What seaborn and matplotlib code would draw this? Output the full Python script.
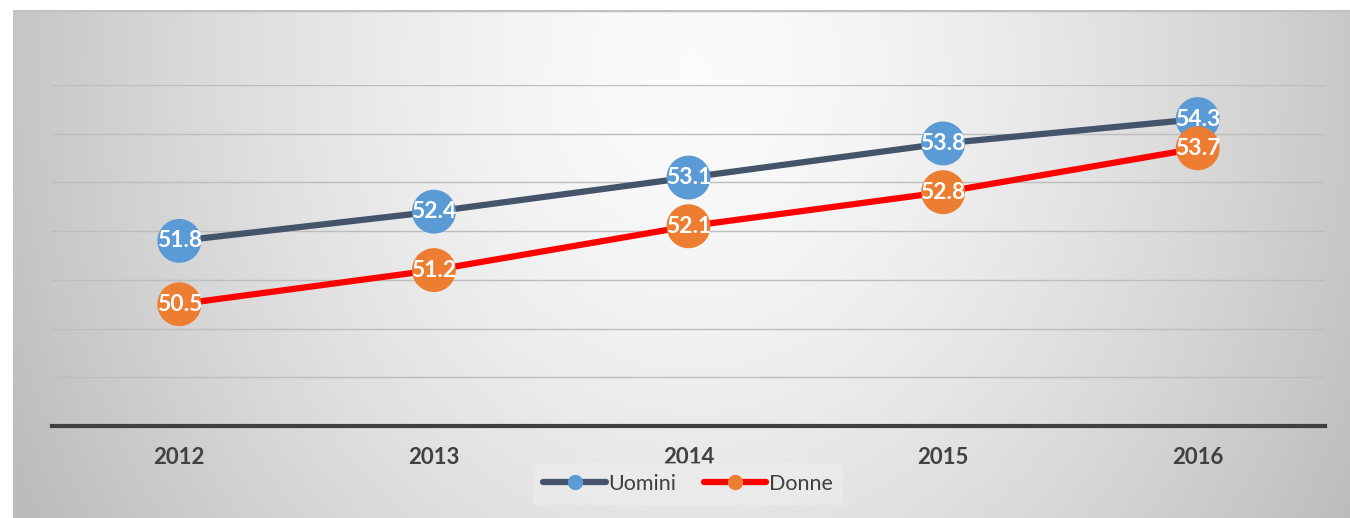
import numpy as np
import pandas as pd
import matplotlib
matplotlib.use("Agg")
import matplotlib.pyplot as plt
from matplotlib.lines import Line2D
import seaborn as sns

# ---- data ----
years = ["2012", "2013", "2014", "2015", "2016"]
uomini = [51.8, 52.4, 53.1, 53.8, 54.3]
donne = [50.5, 51.2, 52.1, 52.8, 53.7]
series_names = ["Uomini", "Donne"]

line_colors = {"Uomini": "#44546A", "Donne": "#FF0000"}
marker_colors = {"Uomini": "#5B9BD5", "Donne": "#ED7D31"}

df = pd.DataFrame({
    "x": list(range(len(years))) * 2,
    "value": uomini + donne,
    "serie": ["Uomini"] * len(years) + ["Donne"] * len(years),
})

sns.set_theme(style="white")
plt.rcParams["font.family"] = ["Lato", "DejaVu Sans"]

W, H = 1350, 518
fig = plt.figure(figsize=(W / 100, H / 100), dpi=100)
fig.patch.set_facecolor("white")

# background with radial gradient
bg = fig.add_axes([13 / W, 0, 1 - 13 / W, (H - 10) / H])
bg.set_zorder(-10)
yy, xx = np.mgrid[0:508, 0:1337]
r = np.sqrt(((xx - 680) / 680.0) ** 2 + ((yy - 60) / 800.0) ** 2)
b = np.clip(0.985 - 0.21 * r ** 1.5, 0.74, 1.0)
img = np.dstack([b, b, b])
bg.imshow(img, aspect="auto", extent=[0, 1, 0, 1], origin="upper")
bg.set_xlim(0, 1)
bg.set_ylim(0, 1)
bg.axhline(1, color="#c0c0c0", lw=2.5)
bg.axis("off")

ax = fig.add_axes([52 / W, 92 / H, (1325 - 52) / W, (426 - 85) / H])
ax.set_facecolor("none")
ax.patch.set_alpha(0)

sns.lineplot(data=df, x="x", y="value", hue="serie", palette=line_colors,
             linewidth=4.5, ax=ax, legend=False, zorder=3)
sns.scatterplot(data=df, x="x", y="value", hue="serie", palette=marker_colors,
                s=1000, edgecolor="none", ax=ax, legend=False, zorder=4)

for vals in (uomini, donne):
    for i, v in enumerate(vals):
        ax.text(i, v, f"{v:.1f}", color="white", fontweight="bold",
                fontsize=16.5, ha="center", va="center", zorder=5)

ax.set_xlim(-0.5, len(years) - 0.5)
ax.set_ylim(48, 55)
ax.set_yticks(np.arange(49, 56, 1))
ax.yaxis.grid(True, color="#bdbdbd", lw=1.0)
ax.set_axisbelow(True)
ax.set_yticklabels([])
ax.tick_params(axis="y", length=0)
ax.set_xticks(range(len(years)))
ax.set_xticklabels(years, fontweight="bold", fontsize=16, color="#404040")
ax.tick_params(axis="x", length=0, pad=15)
ax.set_xlabel("")
ax.set_ylabel("")
for s in ["top", "right", "left"]:
    ax.spines[s].set_visible(False)
ax.spines["bottom"].set_color("#404040")
ax.spines["bottom"].set_linewidth(3)

handles = [Line2D([0], [0], color=line_colors[n], lw=4.5, marker="o",
                  markersize=10, markerfacecolor=marker_colors[n],
                  markeredgecolor=marker_colors[n], solid_capstyle="round")
           for n in series_names]
leg = fig.legend(handles, series_names, loc="center", bbox_to_anchor=(688 / W, 34 / H),
                 ncol=2, frameon=True, fontsize=15.5, handlelength=2.9,
                 handletextpad=0.1, columnspacing=1.3, borderpad=0.5)
leg.get_frame().set_facecolor("#eeeeee")
leg.get_frame().set_alpha(0.6)
leg.get_frame().set_edgecolor("none")
leg.get_frame().set_boxstyle("square", pad=0)
for t in leg.get_texts():
    t.set_color("#404040")

fig.savefig("out.png", dpi=100)
